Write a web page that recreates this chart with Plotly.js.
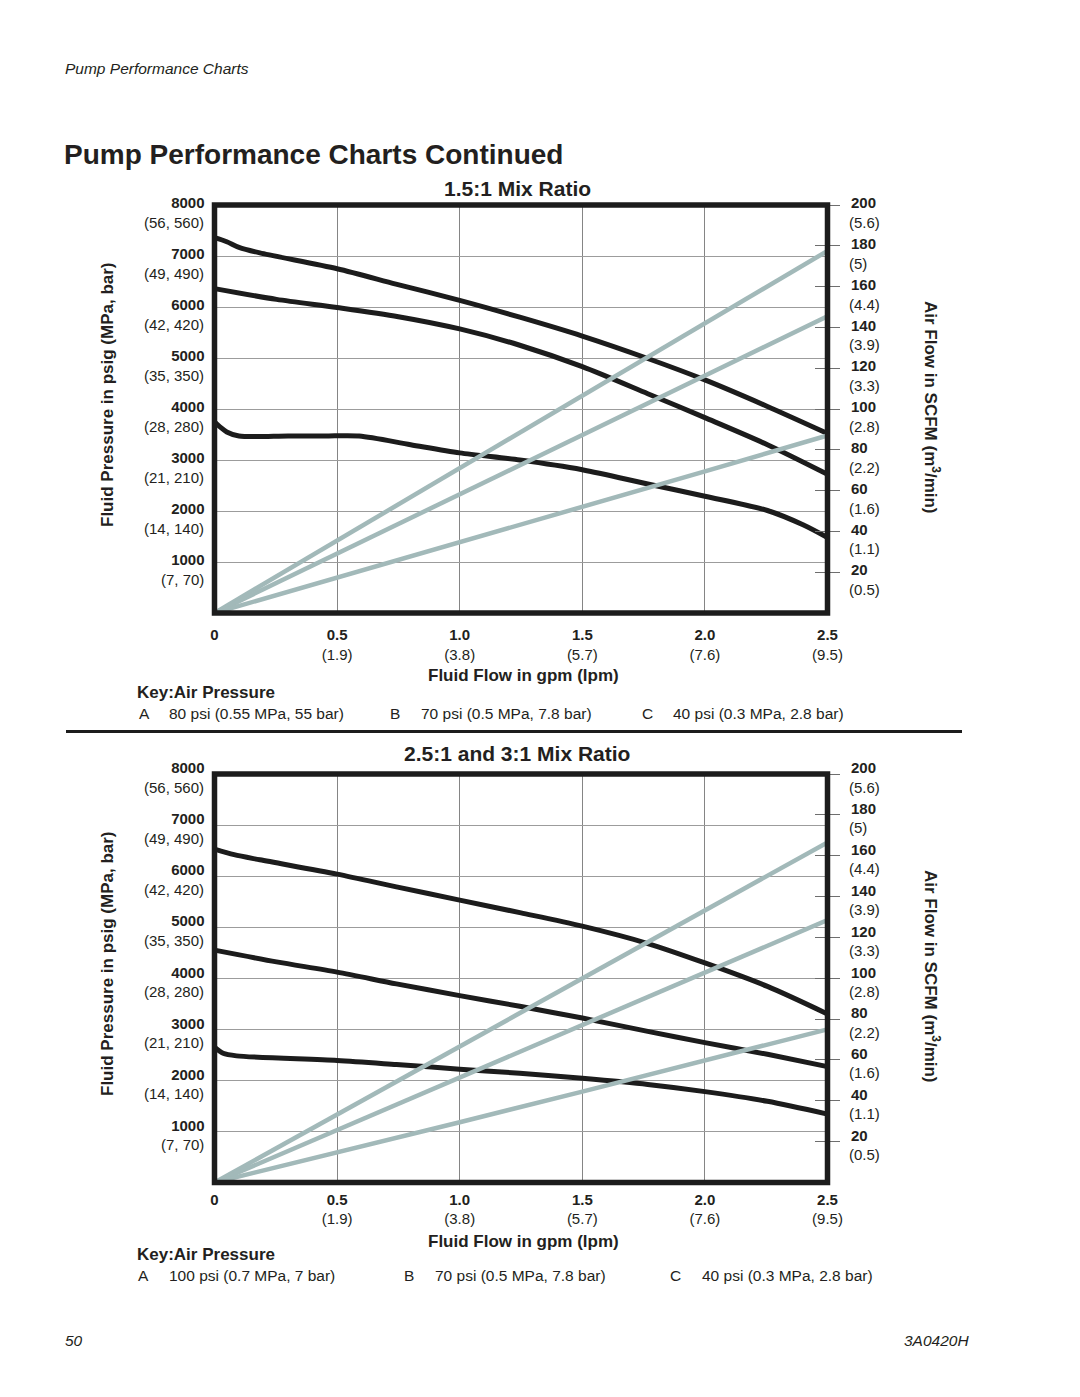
<!DOCTYPE html>
<html>
<head>
<meta charset="utf-8">
<script src="https://cdn.plot.ly/plotly-3.0.1.min.js"></script>
<style>
  html, body { margin: 0; padding: 0; background: #ffffff; }
  #chart { width: 1080px; height: 1397px; }
</style>
</head>
<body>
<div id="chart"></div>
<script>
// ---------------- DATA ----------------
const flowTicks = [0, 0.5, 1.0, 1.5, 2.0, 2.5];
const flowTickText = ['0', '0.5', '1.0', '1.5', '2.0', '2.5'];
const flowMetric = ['', '(1.9)', '(3.8)', '(5.7)', '(7.6)', '(9.5)'];

const pressTicks = [1000, 2000, 3000, 4000, 5000, 6000, 7000, 8000];
const pressTickText = ['1000', '2000', '3000', '4000', '5000', '6000', '7000', '8000'];
const pressMetric = ['(7, 70)', '(14, 140)', '(21, 210)', '(28, 280)', '(35, 350)', '(42, 420)', '(49, 490)', '(56, 560)'];

const airTicks = [20, 40, 60, 80, 100, 120, 140, 160, 180, 200];
const airTickText = ['20', '40', '60', '80', '100', '120', '140', '160', '180', '200'];
const airMetric = ['(0.5)', '(1.1)', '(1.6)', '(2.2)', '(2.8)', '(3.3)', '(3.9)', '(4.4)', '(5)', '(5.6)'];

// Chart 1: 1.5:1 Mix Ratio — fluid pressure (psig) vs fluid flow (gpm)
const top_flowA = [0, 0.05, 0.1, 0.185, 0.5, 0.74, 1.0, 1.245, 1.5, 1.767, 2.0, 2.255, 2.5];
const top_psiA  = [7360, 7280, 7170, 7060, 6750, 6450, 6130, 5800, 5430, 4990, 4570, 4050, 3520];
const top_flowB = [0, 0.253, 0.5, 0.75, 1.0, 1.245, 1.5, 1.767, 2.0, 2.255, 2.5];
const top_psiB  = [6360, 6150, 5990, 5810, 5570, 5250, 4830, 4300, 3830, 3300, 2720];
const top_flowC = [0, 0.025, 0.05, 0.1, 0.3, 0.45, 0.59, 0.8, 1.0, 1.245, 1.5, 1.767, 2.0, 2.255, 2.4, 2.5];
const top_psiC  = [3750, 3640, 3550, 3470, 3470, 3470, 3470, 3300, 3140, 3000, 2810, 2530, 2290, 2010, 1730, 1480];
// Air flow (SCFM) at flowTicks
const top_airA = [0, 35.5, 71, 106.5, 142, 177.5];
const top_airB = [0, 29, 58.2, 87.3, 116.4, 145.5];
const top_airC = [0, 17.3, 34.6, 51.7, 69.4, 87];

// Chart 2: 2.5:1 and 3:1 Mix Ratio
const bot_flowA = [0, 0.08, 0.185, 0.5, 0.742, 1.0, 1.25, 1.5, 1.767, 2.0, 2.255, 2.5];
const bot_psiA  = [6530, 6420, 6320, 6040, 5790, 5530, 5280, 5020, 4680, 4300, 3840, 3300];
const bot_flowB = [0, 0.253, 0.5, 0.742, 1.0, 1.245, 1.5, 1.767, 2.0, 2.255, 2.5];
const bot_psiB  = [4550, 4320, 4120, 3890, 3660, 3450, 3220, 2960, 2740, 2510, 2270];
const bot_flowC = [0, 0.035, 0.09, 0.5, 0.742, 1.0, 1.245, 1.5, 1.767, 2.0, 2.255, 2.5];
const bot_psiC  = [2650, 2530, 2480, 2390, 2310, 2220, 2140, 2040, 1920, 1780, 1590, 1340];
const bot_airA = [0, 33.3, 66.7, 100, 133.3, 166.5];
const bot_airB = [0, 25.7, 51.5, 77.2, 103, 128.5];
const bot_airC = [0, 14.6, 29.5, 44.5, 60, 75];

// Text
const pageHeader = 'Pump Performance Charts';
const pageTitle = 'Pump Performance Charts Continued';
const chartTitles = ['1.5:1 Mix Ratio', '2.5:1 and 3:1 Mix Ratio'];
const xTitle = 'Fluid Flow in gpm (lpm)';
const yLeftTitle = 'Fluid Pressure in psig (MPa, bar)';
const yRightTitle = 'Air Flow in SCFM (m<sup>3</sup>/min)';
const keyTitle = 'Key:Air Pressure';
const keyLetters = ['A', 'B', 'C'];
const keyTopText = ['80 psi (0.55 MPa, 55 bar)', '70 psi (0.5 MPa, 7.8 bar)', '40 psi (0.3 MPa, 2.8 bar)'];
const keyBotText = ['100 psi (0.7 MPa, 7 bar)', '70 psi (0.5 MPa, 7.8 bar)', '40 psi (0.3 MPa, 2.8 bar)'];
const footerLeft = '50';
const footerRight = '3A0420H';

// ---------------- STYLE / LAYOUT ----------------
const W = 1080, H = 1397;
const px = v => v / W;
const py = v => 1 - v / H;
const FONT = 'Liberation Sans, Arial, Helvetica, sans-serif';
const INK = '#231f20';
const BLACK_LINE = '#1c1c1c';
const GRAY_LINE = '#a2b9b9';

const xDom = [px(214.5), px(827.5)];
const topDom = [py(613), py(205)];
const botDom = [py(1182.5), py(774)];

function curve(x, y, xa, ya) {
  return {type: 'scatter', mode: 'lines', x: x, y: y, xaxis: xa, yaxis: ya,
          line: {color: BLACK_LINE, width: 5, shape: 'spline', smoothing: 0.8},
          hoverinfo: 'skip', showlegend: false};
}
function air(y, xa, ya) {
  return {type: 'scatter', mode: 'lines', x: flowTicks, y: y, xaxis: xa, yaxis: ya,
          line: {color: GRAY_LINE, width: 4.5},
          hoverinfo: 'skip', showlegend: false};
}

const data = [
  curve(top_flowA, top_psiA, 'x', 'y'),
  curve(top_flowB, top_psiB, 'x', 'y'),
  curve(top_flowC, top_psiC, 'x', 'y'),
  air(top_airA, 'x', 'y2'),
  air(top_airB, 'x', 'y2'),
  air(top_airC, 'x', 'y2'),
  curve(bot_flowA, bot_psiA, 'x2', 'y3'),
  curve(bot_flowB, bot_psiB, 'x2', 'y3'),
  curve(bot_flowC, bot_psiC, 'x2', 'y3'),
  air(bot_airA, 'x2', 'y4'),
  air(bot_airB, 'x2', 'y4'),
  air(bot_airC, 'x2', 'y4')
];

const xTickText = flowTickText.map((t, i) => flowMetric[i] ? '<b>' + t + '</b><br>' + flowMetric[i] : '<b>' + t + '</b>');

function xAxis(anchor, standoff) {
  return {domain: xDom, range: [0, 2.5], anchor: anchor, tickmode: 'array',
          tickvals: flowTicks, ticktext: xTickText, ticks: '', ticklabelstandoff: standoff,
          tickfont: {family: FONT, size: 15, color: INK},
          showgrid: true, gridcolor: '#858585', gridwidth: 1, zeroline: false, showline: false,
          fixedrange: true};
}
function yLeft(dom, anchor, shift) {
  return {domain: dom, range: [0, 8000], anchor: anchor, tickmode: 'array',
          tickvals: pressTicks, ticktext: pressTickText.map(t => '<b>' + t + '</b>'),
          ticks: '', ticklabelstandoff: 9, ticklabelshift: shift,
          tickfont: {family: FONT, size: 15, color: INK},
          showgrid: true, gridcolor: '#9c9c9c', gridwidth: 1, zeroline: false, showline: false,
          fixedrange: true};
}
function yRight(over, shift) {
  return {overlaying: over, side: 'right', anchor: 'free', position: px(814),
          range: [0, 200], tickmode: 'array', tickvals: airTicks,
          ticktext: airTickText.map(t => '<b>' + t + '</b>'),
          ticks: 'outside', ticklen: 25, tickwidth: 1, tickcolor: '#6e6e6e',
          ticklabelstandoff: 8, ticklabelshift: shift,
          tickfont: {family: FONT, size: 15, color: INK},
          showgrid: false, zeroline: false, showline: false, fixedrange: true};
}

const annotations = [];
function txt(text, x, y, opts) {
  annotations.push(Object.assign({xref: 'paper', yref: 'paper', x: px(x), y: py(y),
    text: text, showarrow: false, xanchor: 'left', yanchor: 'middle',
    font: {family: FONT, size: 15, color: INK}}, opts || {}));
}

// page texts
txt('<i>' + pageHeader + '</i>', 63, 68, {font: {family: FONT, size: 15.5, color: INK}});
txt('<b>' + pageTitle + '</b>', 62, 155, {font: {family: FONT, size: 28, color: INK}});
txt('<i>' + footerLeft + '</i>', 63, 1340, {font: {family: FONT, size: 15.5, color: INK}});
txt('<i>' + footerRight + '</i>', 971, 1340, {xanchor: 'right', font: {family: FONT, size: 15.5, color: INK}});

const charts = [
  {top: 205, yl: 'y', yr: 'y2', keyText: keyTopText, letterX: [137, 388, 640], textX: [167, 419, 671],
   titleDy: -17, xTitleDy: 471, keyDy: 0, metricShift: -17.5},
  {top: 774, yl: 'y3', yr: 'y4', keyText: keyBotText, letterX: [136, 402, 668], textX: [167, 433, 700],
   titleDy: -21, xTitleDy: 467, keyDy: -7, metricShift: -13}
];
charts.forEach((c, k) => {
  const t = c.top;
  txt('<b>' + chartTitles[k] + '</b>', 517, t + c.titleDy, {xanchor: 'center', font: {family: FONT, size: 21, color: INK}});
  txt('<b>' + xTitle + '</b>', 523, t + c.xTitleDy, {xanchor: 'center', font: {family: FONT, size: 17, color: INK}});
  txt('<b>' + yLeftTitle + '</b>', 107, t + 190, {xanchor: 'center', textangle: -90, font: {family: FONT, size: 17, color: INK}});
  txt('<b>' + yRightTitle + '</b>', 932, t + 202, {xanchor: 'center', textangle: 90, font: {family: FONT, size: 17, color: INK}});
  txt('<b>' + keyTitle + '</b>', 135, t + 487 + c.keyDy, {font: {family: FONT, size: 17, color: INK}});
  keyLetters.forEach((L, i) => {
    const yk = t + 508 + c.keyDy;
    txt(L, c.letterX[i], yk, {font: {family: FONT, size: 15.5, color: INK}});
    txt(c.keyText[i], c.textX[i], yk, {font: {family: FONT, size: 15.5, color: INK}});
  });
  pressTicks.forEach((v, i) => {
    annotations.push({xref: 'paper', yref: c.yl, x: px(206), y: v, yshift: c.metricShift, text: pressMetric[i],
      showarrow: false, xanchor: 'right', yanchor: 'middle', font: {family: FONT, size: 15, color: INK}});
  });
  airTicks.forEach((v, i) => {
    annotations.push({xref: 'paper', yref: c.yr, x: px(847), y: v, yshift: c.metricShift, text: airMetric[i],
      showarrow: false, xanchor: 'left', yanchor: 'middle', font: {family: FONT, size: 15, color: INK}});
  });
});

const shapes = [
  {type: 'rect', xref: 'x domain', yref: 'y domain', x0: 0, x1: 1, y0: 0, y1: 1,
   line: {color: BLACK_LINE, width: 5.5}, layer: 'above'},
  {type: 'rect', xref: 'x2 domain', yref: 'y3 domain', x0: 0, x1: 1, y0: 0, y1: 1,
   line: {color: BLACK_LINE, width: 5.5}, layer: 'above'},
  {type: 'line', xref: 'paper', yref: 'paper', x0: px(66), x1: px(962), y0: py(731.5), y1: py(731.5),
   line: {color: BLACK_LINE, width: 3}}
];

const layout = {
  width: W, height: H,
  margin: {l: 0, r: 0, t: 0, b: 0},
  paper_bgcolor: '#ffffff', plot_bgcolor: '#ffffff',
  font: {family: FONT, color: INK},
  showlegend: false,
  xaxis: xAxis('y', 11),
  yaxis: yLeft(topDom, 'x', -2),
  yaxis2: yRight('y', -2),
  xaxis2: xAxis('y3', 6),
  yaxis3: yLeft(botDom, 'x2', -6),
  yaxis4: yRight('y3', -6),
  annotations: annotations,
  shapes: shapes
};

Plotly.newPlot('chart', data, layout, {staticPlot: true, displayModeBar: false});
</script>
</body>
</html>
